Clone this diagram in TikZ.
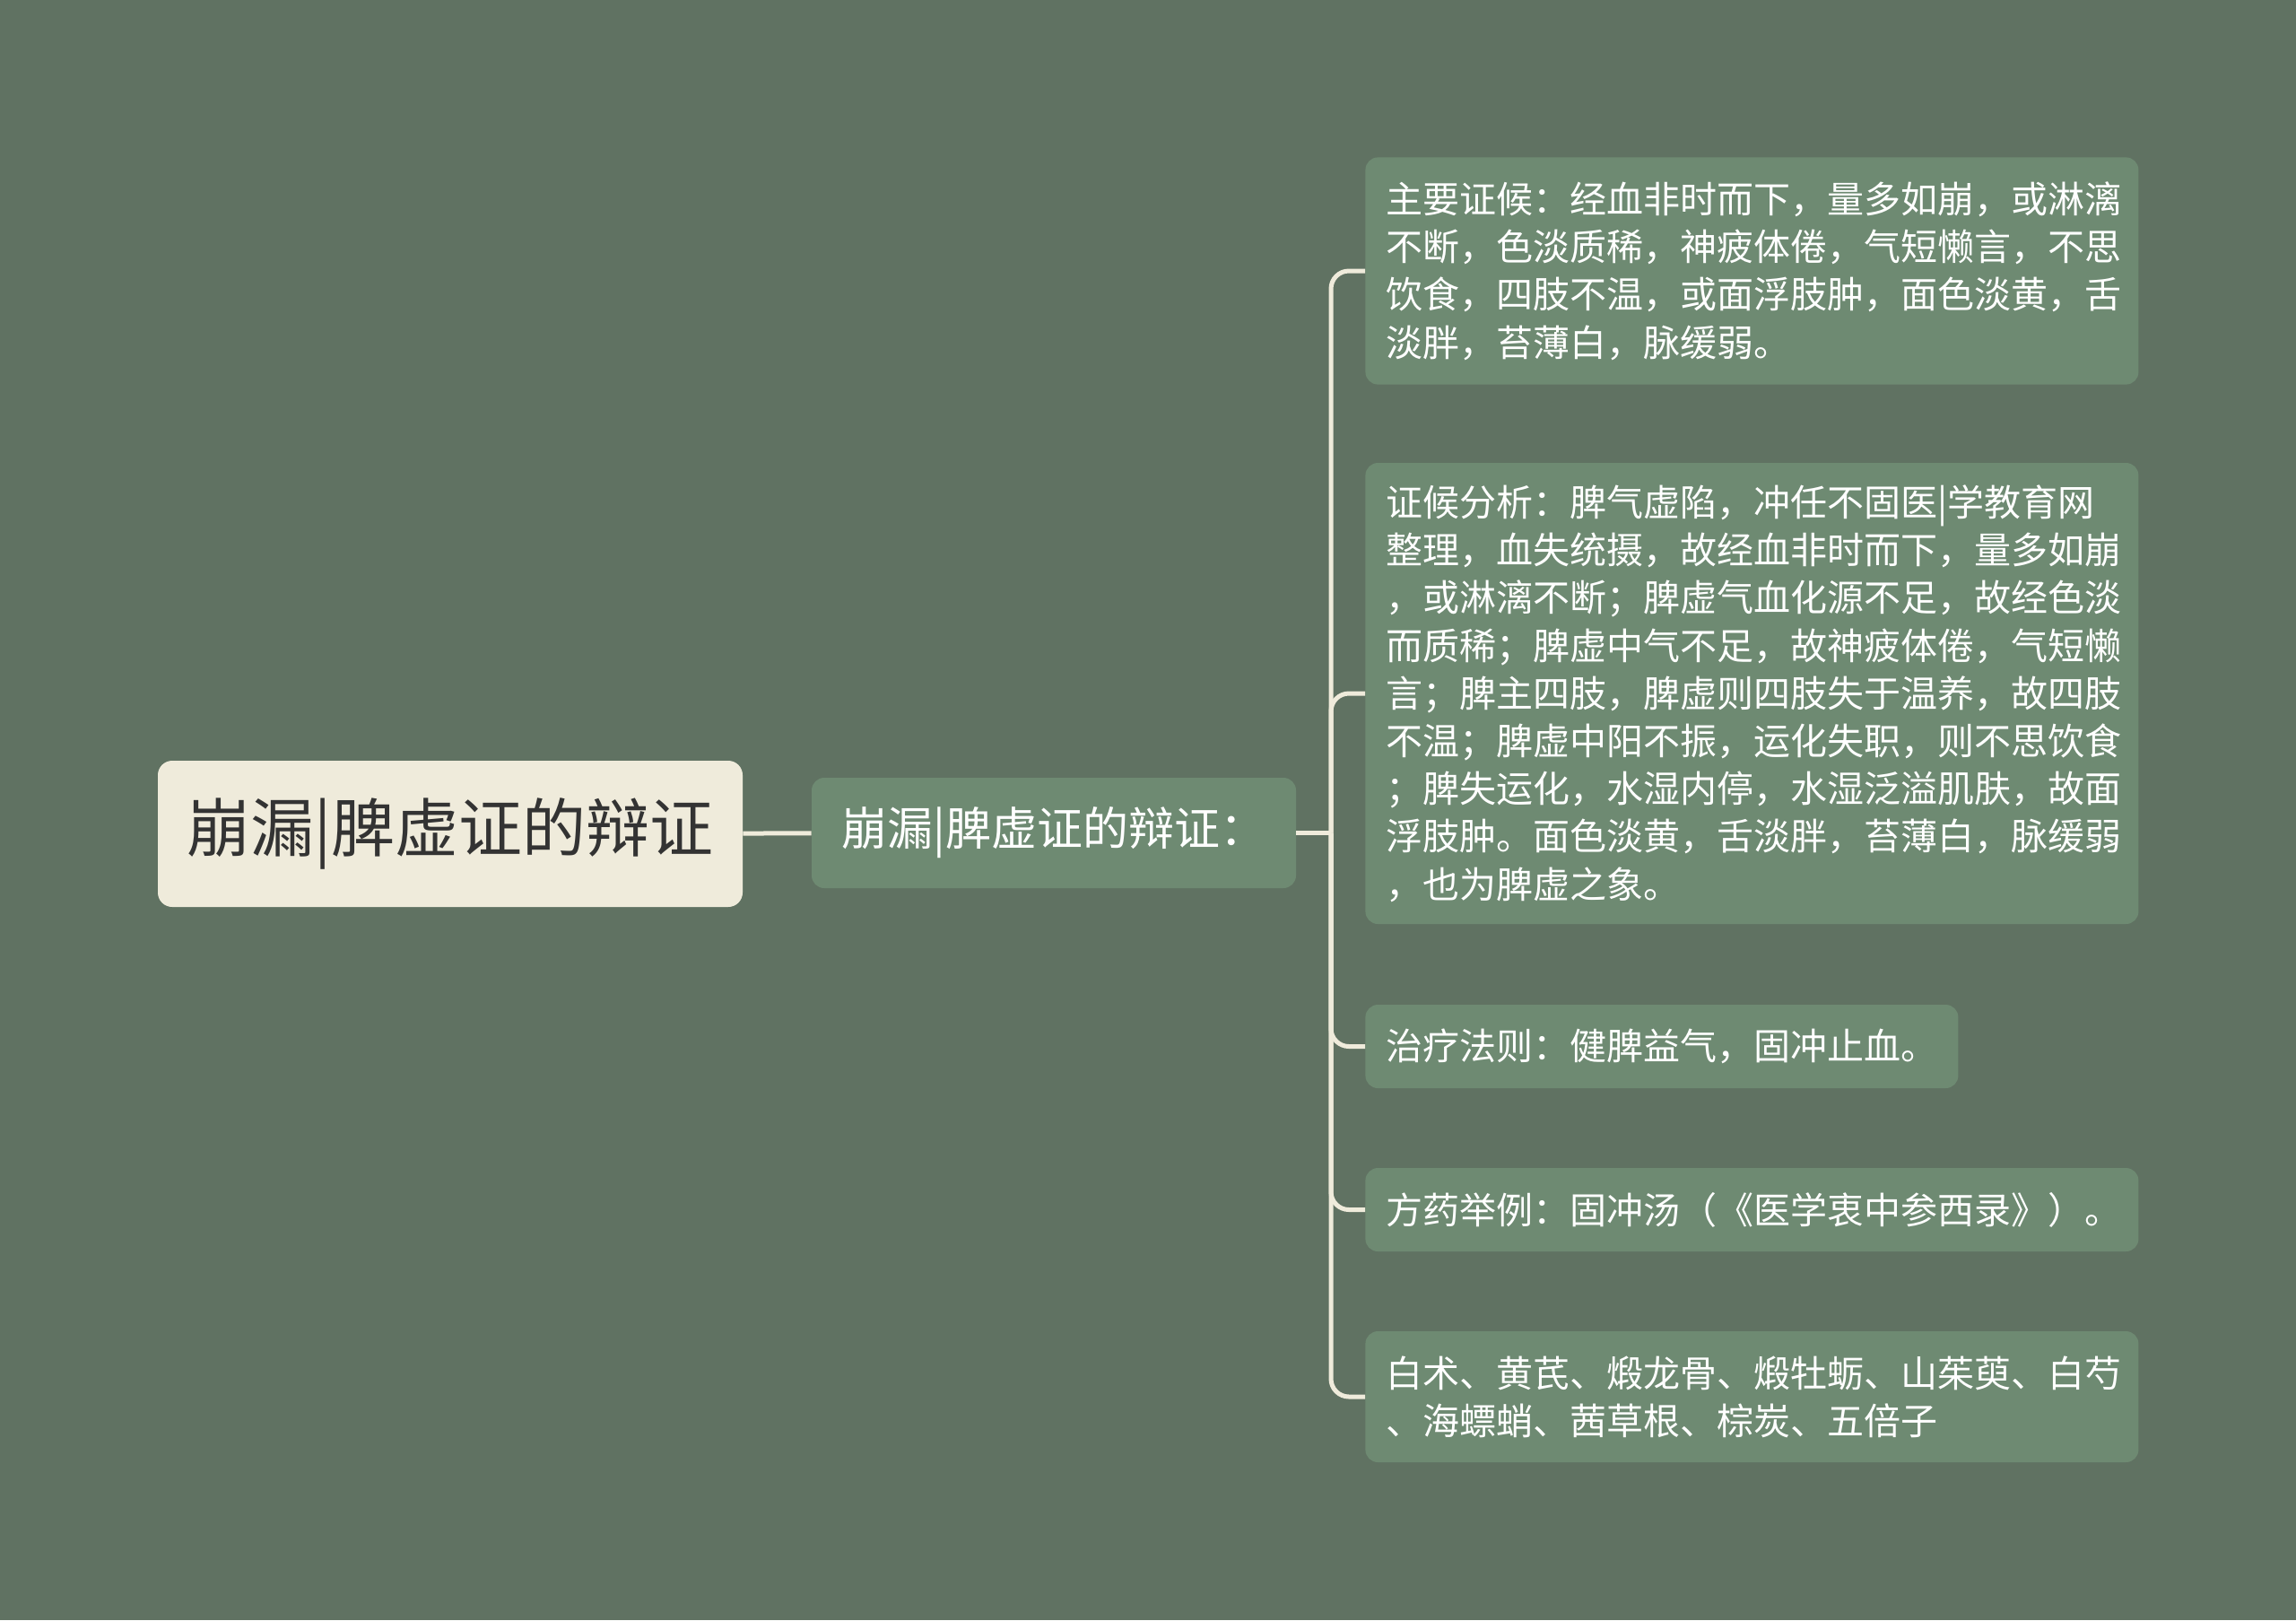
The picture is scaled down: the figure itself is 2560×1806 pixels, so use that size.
\documentclass[tikz,border=0pt]{standalone}
\usepackage{fontspec}
\newfontfamily\cjk{Noto Sans CJK SC}
\definecolor{bgc}{HTML}{607262}
\definecolor{leafc}{HTML}{6E8A72}
\definecolor{rootc}{HTML}{EFEBDB}
\definecolor{linec}{HTML}{EFEBDB}
\definecolor{darktxt}{HTML}{333333}
\begin{document}
\begin{tikzpicture}[x=0.5pt,y=-0.5pt,
  leaf/.style={rectangle, rounded corners=7pt, fill=leafc, text=white, align=left, anchor=west, inner xsep=11.5pt, inner ysep=0pt, font=\cjk\fontsize{20.5}{26.6}\selectfont},
  link/.style={draw=linec, line width=2.5pt}]
\useasboundingbox (0,0) rectangle (2560,1806);
\fill[bgc] (0,0) rectangle (2560,1806);
\node[rectangle, rounded corners=8pt, fill=rootc, text=darktxt, minimum width=326pt, minimum height=81.5pt, font=\cjk\fontsize{35.5}{40}\selectfont] (nd0) at (502,929.5){崩漏|脾虚证的辩证};
\node[rectangle, rounded corners=7pt, fill=leafc, text=white, minimum width=270pt, minimum height=61.5pt, font=\cjk\fontsize{25.5}{30}\selectfont] (nd1) at (1175,928.5){崩漏|脾虚证的辩证：};
\node[leaf, text width=408pt, minimum height=126.6pt] (nd2) at (1522,302){主要证候：经血非时而下，量多如崩，或淋漓\\不断，色淡质稀，神疲体倦，气短懒言，不思\\饮食，四肢不温，或面浮肢肿，面色淡黄，舌\\淡胖，苔薄白，脉缓弱。};
\node[leaf, text width=408pt, minimum height=257pt] (nd3) at (1522,773){证候分析：脾气虚陷，冲任不固医|学教育网\\整理，血失统摄，故经血非时而下，量多如崩\\，或淋漓不断；脾虚气血化源不足，故经色淡\\而质稀；脾虚中气不足，故神疲体倦，气短懒\\言；脾主四肢，脾虚则四肢失于温养，故四肢\\不温；脾虚中阳不振，运化失职，则不思饮食\\；脾失运化，水湿内停，水湿泛溢肌肤，故面\\浮肢肿。面色淡黄，舌淡胖，苔薄白，脉缓弱\\，也为脾虚之象。};
\node[leaf, minimum height=46.5pt] (nd4) at (1522,1166.5){治疗法则：健脾益气，固冲止血。};
\node[leaf, text width=408pt, minimum height=46.5pt] (nd5) at (1522,1348.5){方药举例：固冲汤（《医学衷中参西录》）。};
\node[leaf, text width=408pt, minimum height=73pt] (nd6) at (1522,1557){白术、黄芪、煅龙骨、煅牡蛎、山茱萸、白芍\\、海螵蛸、茜草根、棕炭、五倍子};
\coordinate (jn) at (1484,928.5);
\draw[link] (nd0) -- (nd1);
\draw[link] (nd1) -- (jn);
\foreach \n in {2,...,6}
  \draw[link, rounded corners=10pt] (jn) |- (nd\n.west);
\end{tikzpicture}
\end{document}
